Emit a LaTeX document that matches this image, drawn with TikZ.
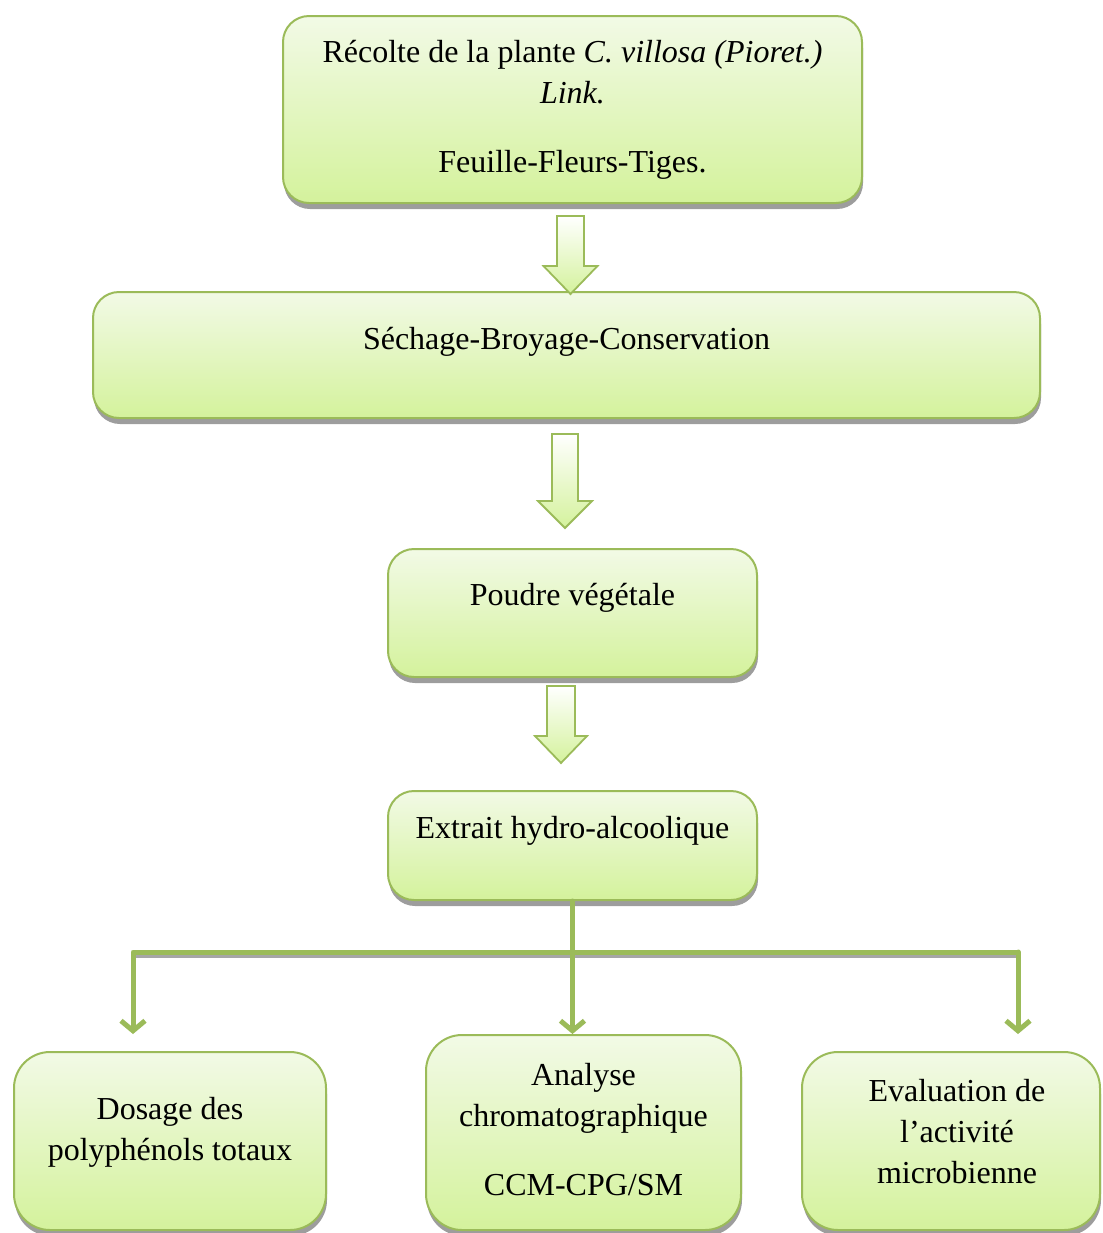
\documentclass[tikz,border=0pt]{standalone}
\usepackage{fontspec}
\setmainfont{Liberation Serif}
\usetikzlibrary{arrows.meta,calc,shadows}
\definecolor{leaf}{HTML}{9BBB59}
\definecolor{limetop}{HTML}{F2FAE6}
\definecolor{limebot}{HTML}{D4F29C}
\tikzset{
	etape/.style={draw=leaf, line width=1pt, rounded corners=13pt, top color=limetop, bottom color=limebot, align=center, inner xsep=0pt, font=\fontsize{16}{20.5}\selectfont, drop shadow={shadow xshift=0.5pt, shadow yshift=-3pt, fill=black!55, opacity=.7}},
	creux/.style={draw=leaf, line width=0.9pt, line join=miter, top color=white, bottom color=limebot},
	lien/.style={draw=leaf, line width=2.5pt, line cap=round, line join=round, >={Straight Barb[length=5pt,width=12pt]}}
}
\begin{document}
\begin{tikzpicture}[x=0.5pt,y=-0.5pt]
	\useasboundingbox (0,0) rectangle (1103,1233);
	\node[etape, minimum width=289.5pt, minimum height=93.5pt] (rec) at (572.5,109.5) {R\'ecolte de la plante \textit{C. villosa (Pioret.)}\\\textit{Link.}\\[14pt]Feuille-Fleurs-Tiges.};
	\node[etape, minimum width=473.5pt, inner ysep=0pt, text height=28.5pt, text depth=34.5pt] (sec) at (566.5,355) {S\'echage-Broyage-Conservation};
	\node[etape, minimum width=184.5pt, inner ysep=0pt, text height=28pt, text depth=36pt] (pou) at (572.5,613) {Poudre v\'eg\'etale};
	\node[etape, minimum width=184.5pt, inner ysep=0pt, text height=23.5pt, text depth=31pt] (ext) at (572.5,845.5) {Extrait hydro-alcoolique};
	\node[etape, rounded corners=18pt, minimum width=156pt, minimum height=89pt] (dos) at (170,1141) {Dosage des\\polyph\'enols totaux\\[-8pt]\mbox{}};
	\node[etape, rounded corners=18pt, minimum width=157.5pt, minimum height=97.5pt] (ana) at (583.5,1132.5) {Analyse\\chromatographique\\[14pt]CCM-CPG/SM\\[-17.5pt]\mbox{}};
	\node[etape, rounded corners=18pt, minimum width=149pt, minimum height=89pt] (eva) at (951,1141) {\hspace{6pt}Evaluation de\\\hspace{6pt}l'activit\'e\\\hspace{6pt}microbienne\\[-10.5pt]\mbox{}};
	\draw[creux] ($(rec.south)+(-15.5,12)$) -- ++(27,0) -- ++(0,50) -- ++(13.5,0) -- ++(-27,28) -- ++(-27,-28) -- ++(13.5,0) -- cycle;
	\draw[creux] ($(sec.south)+(-14.5,15)$) -- ++(26,0) -- ++(0,67) -- ++(14,0) -- ++(-27,27) -- ++(-27,-27) -- ++(14,0) -- cycle;
	\draw[creux] ($(pou.south)+(-25.5,8)$) -- ++(28,0) -- ++(0,50) -- ++(12,0) -- ++(-26,27) -- ++(-26,-27) -- ++(12,0) -- cycle;
	\coordinate (gauche) at (133,952);
	\coordinate (droite) at (1018,952);
	\draw[black!35, line width=2pt] ([yshift=-2pt]gauche) -- ([yshift=-2pt]droite);
	\draw[lien, ->] (droite) -- (gauche) -- ([yshift=8.5pt]gauche |- dos.north);
	\draw[lien, ->] (droite) -- ([yshift=8.5pt]droite |- eva.north);
	\draw[lien, ->] (ext.south) -- (ext.south |- ana.north);
\end{tikzpicture}
\end{document}
